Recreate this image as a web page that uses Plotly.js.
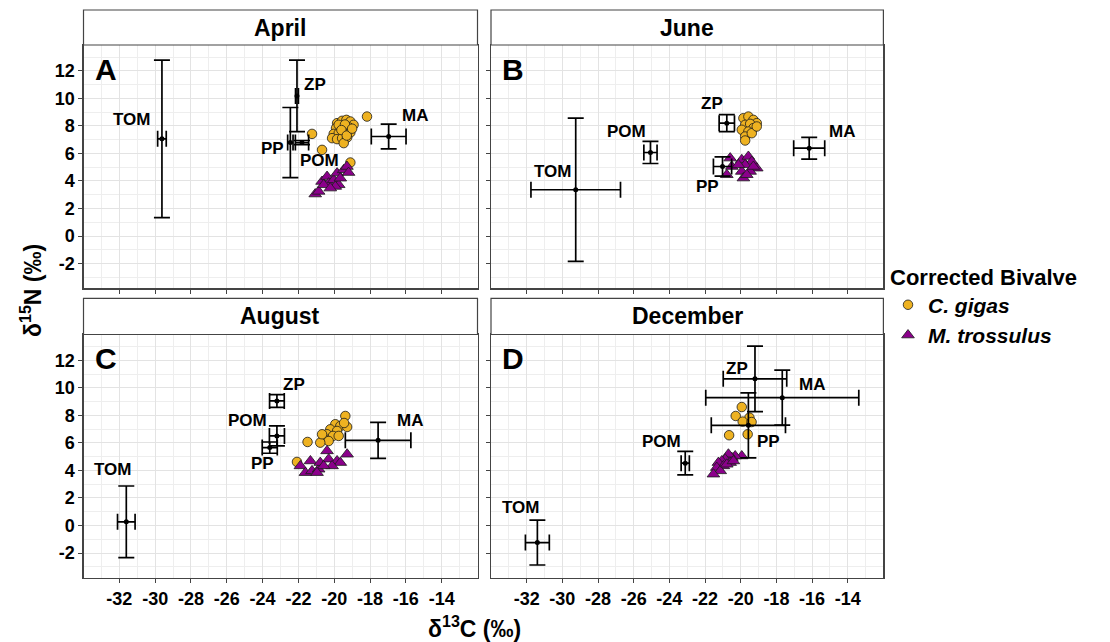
<!DOCTYPE html>
<html>
<head>
<meta charset="utf-8">
<script src="https://cdn.plot.ly/plotly-3.0.1.min.js"></script>
<style>html,body{margin:0;padding:0;background:#fff;}#chart{width:1110px;height:642px;}</style>
</head>
<body>
<div id="chart"></div>
<script>
// ---------- DATA ----------
const months = ['April', 'June', 'August', 'December'];
const panelLetters = ['A', 'B', 'C', 'D'];
const sourceNames = ['TOM', 'POM', 'PP', 'ZP', 'MA'];
const xTicks = [-32, -30, -28, -26, -24, -22, -20, -18, -16, -14];
const yTicks = [-2, 0, 2, 4, 6, 8, 10, 12];

// April
const aprGigasC = [-19.84, -19.56, -19.32, -19.10, -18.92, -19.90, -19.66, -19.20, -20.03, -19.75, -19.47, -19.10, -20.12, -19.84, -19.56, -19.28, -19.47, -19.75, -19.40, -19.60, -19.30, -19.00, -18.17, -21.24, -20.68, -19.10];
const aprGigasN = [8.20, 8.37, 8.44, 8.32, 8.08, 7.84, 7.91, 7.91, 7.42, 7.47, 7.59, 7.52, 7.11, 7.04, 7.11, 7.16, 6.75, 8.08, 8.10, 7.70, 7.30, 7.80, 8.68, 7.42, 6.26, 5.34];
const aprTrossC = [-21.06, -20.87, -20.68, -20.40, -20.31, -20.03, -19.84, -19.75, -19.66, -19.47, -19.29, -19.20, -19.94, -20.59, -20.22];
const aprTrossN = [3.05, 3.24, 3.96, 4.32, 3.84, 4.08, 4.57, 3.72, 4.20, 4.81, 5.05, 4.61, 3.60, 3.72, 3.48];
const aprSrcC = [-29.62, -21.80, -22.45, -22.08, -16.96];
const aprSrcN = [7.06, 6.79, 6.79, 10.18, 7.23];
const aprSrcCsd = [0.24, 0.37, 0.15, 0.08, 0.97];
const aprSrcNsd = [5.72, 0.15, 2.55, 2.60, 0.90];

// June
const junGigasC = [-19.85, -19.57, -19.29, -19.10, -19.75, -19.47, -19.29, -19.94, -19.57, -19.75, -19.38, -19.75, -19.10];
const junGigasN = [8.56, 8.68, 8.44, 8.20, 8.08, 8.15, 7.84, 7.72, 7.59, 7.23, 7.47, 6.94, 7.96];
const junTrossC = [-20.59, -20.50, -20.78, -19.94, -19.57, -19.38, -19.75, -19.10, -19.94, -19.47, -19.85, -20.13, -19.29, -19.66];
const junTrossN = [5.66, 5.05, 4.45, 5.54, 5.78, 5.41, 5.17, 4.93, 4.69, 4.69, 4.21, 5.17, 5.05, 4.45];
const junSrcC = [-29.25, -25.06, -21.02, -20.78, -16.16];
const junSrcN = [3.36, 6.07, 5.05, 8.20, 6.38];
const junSrcCsd = [2.51, 0.37, 0.51, 0.43, 0.87];
const junSrcNsd = [5.20, 0.80, 0.70, 0.62, 0.79];

// August
const augGigasC = [-19.38, -19.94, -19.66, -19.28, -20.22, -19.84, -20.40, -20.07, -20.59, -20.31, -20.78, -20.68, -21.49, -22.08, -19.75, -19.45];
const augGigasN = [7.96, 7.36, 7.23, 7.16, 6.99, 6.87, 6.63, 6.51, 6.38, 6.14, 6.02, 6.63, 6.07, 4.62, 6.51, 7.45];
const augTrossC = [-21.33, -21.89, -21.61, -21.24, -20.87, -20.78, -20.40, -20.31, -19.84, -19.66, -19.28, -20.12, -20.59, -20.96];
const augTrossN = [4.69, 4.33, 3.84, 3.97, 4.09, 4.57, 5.42, 4.82, 4.69, 4.57, 5.18, 4.33, 4.33, 3.84];
const augSrcC = [-31.61, -23.20, -23.60, -23.20, -17.55];
const augSrcN = [0.27, 6.51, 5.66, 9.05, 6.19];
const augSrcCsd = [0.49, 0.42, 0.42, 0.41, 1.83];
const augSrcNsd = [2.60, 0.73, 0.41, 0.46, 1.31];

// December
const decGigasC = [-19.94, -20.28, -19.51, -19.89, -19.39, -20.65, -19.61];
const decGigasN = [8.61, 7.96, 7.84, 7.55, 7.52, 6.56, 6.63];
const decTrossC = [-19.94, -20.31, -20.50, -20.69, -20.87, -20.59, -21.06, -21.25, -20.97, -21.34, -21.15, -21.53, -20.78, -20.41];
const decTrossN = [5.05, 5.05, 4.93, 5.18, 4.82, 4.57, 4.69, 4.57, 4.33, 4.21, 3.97, 3.73, 4.45, 4.69];
const decSrcC = [-31.40, -23.11, -19.57, -19.20, -17.67];
const decSrcN = [-1.24, 4.53, 7.28, 10.66, 9.29];
const decSrcCsd = [0.67, 0.23, 2.08, 1.78, 4.29];
const decSrcNsd = [1.63, 0.85, 2.36, 2.38, 2.00];

// ---------- LAYOUT HELPERS (label placement, in data units) ----------
const labelPos = [
  [[-31.3, 8.44], [-20.82, 5.49], [-23.47, 6.39], [-21.1, 10.98], [-15.5, 8.73]],
  [[-30.56, 4.69], [-26.4, 7.59], [-21.84, 3.6], [-21.62, 9.65], [-14.3, 7.59]],
  [[-32.36, 4.09], [-24.87, 7.6], [-23.98, 4.5], [-22.27, 10.26], [-15.79, 7.65]],
  [[-32.32, 1.3], [-24.45, 6.14], [-18.45, 6.07], [-20.22, 11.42], [-15.98, 10.26]]
];

const panelData = [
  {gC: aprGigasC, gN: aprGigasN, tC: aprTrossC, tN: aprTrossN, sC: aprSrcC, sN: aprSrcN, sCsd: aprSrcCsd, sNsd: aprSrcNsd},
  {gC: junGigasC, gN: junGigasN, tC: junTrossC, tN: junTrossN, sC: junSrcC, sN: junSrcN, sCsd: junSrcCsd, sNsd: junSrcNsd},
  {gC: augGigasC, gN: augGigasN, tC: augTrossC, tN: augTrossN, sC: augSrcC, sN: augSrcN, sCsd: augSrcCsd, sNsd: augSrcNsd},
  {gC: decGigasC, gN: decGigasN, tC: decTrossC, tN: decTrossN, sC: decSrcC, sN: decSrcN, sCsd: decSrcCsd, sNsd: decSrcNsd}
];

const W = 1110, H = 642;
const FONT = 'Liberation Sans, Arial, Helvetica, sans-serif';
const gold = '#EEB221';
const purple = '#8B008B';
const borderCol = '#444444';

const xDom = [[83.5 / W, 477.5 / W], [491 / W, 883.4 / W]];
const yDom = [[1 - 288.3 / H, 1 - 45 / H], [1 - 577.8 / H, 1 - 334.5 / H]];
const stripY = [[1 - 45 / H, 1 - 10 / H], [1 - 334.5 / H, 1 - 298.3 / H]];

const traces = [];
const layout = {
  width: W, height: H,
  margin: {l: 0, r: 0, t: 0, b: 0},
  paper_bgcolor: '#fff', plot_bgcolor: '#fff',
  font: {family: FONT, color: '#000'},
  showlegend: true,
  legend: {
    x: 888 / W, y: 1 - 256 / H, xanchor: 'left', yanchor: 'top',
    bgcolor: 'rgba(0,0,0,0)',
    title: {text: '<b>Corrected Bivalve</b>', font: {size: 22, family: FONT, color: '#000'}},
    font: {size: 21, family: FONT, color: '#000'},
    itemwidth: 30, tracegroupgap: 0
  },
  shapes: [], annotations: []
};

for (let p = 0; p < 4; p++) {
  const col = p % 2, row = Math.floor(p / 2);
  const sfx = p === 0 ? '' : String(p + 1);
  const xa = 'x' + sfx, ya = 'y' + sfx;
  const d = panelData[p];

  traces.push({
    type: 'scatter', mode: 'markers', x: d.gC, y: d.gN, xaxis: xa, yaxis: ya,
    name: '<b><i>C. gigas</i></b>', legendgroup: 'g', showlegend: p === 0,
    marker: {symbol: 'circle', size: 9.5, color: gold, line: {color: '#1a1a1a', width: 0.8}},
    hoverinfo: 'x+y'
  });
  traces.push({
    type: 'scatter', mode: 'markers', x: d.tC, y: d.tN, xaxis: xa, yaxis: ya,
    name: '<b><i>M. trossulus</i></b>', legendgroup: 't', showlegend: p === 0,
    marker: {symbol: 'triangle-up', size: 11, color: purple, line: {color: '#1a1a1a', width: 0.8}},
    hoverinfo: 'x+y'
  });
  traces.push({
    type: 'scatter', mode: 'markers', x: d.sC, y: d.sN, xaxis: xa, yaxis: ya,
    text: sourceNames, showlegend: false,
    marker: {size: 5, color: '#000'},
    error_x: {type: 'data', array: d.sCsd, visible: true, color: '#000', thickness: 1.7, width: 8},
    error_y: {type: 'data', array: d.sNsd, visible: true, color: '#000', thickness: 1.7, width: 8}
  });

  const axCommon = {
    showline: true, mirror: true, linecolor: borderCol, linewidth: 1.2,
    ticks: 'outside', ticklen: 4, tickcolor: borderCol, tickwidth: 1,
    zeroline: false, showgrid: true, gridcolor: '#E3E3E3', gridwidth: 1,
    tickfont: {family: FONT, size: 18, color: '#000', weight: 'bold'},
    minor: {tick0: 0, dtick: 1, showgrid: true, gridcolor: '#EEEEEE', gridwidth: 1}
  };
  layout['xaxis' + sfx] = Object.assign({}, axCommon, {
    domain: xDom[col], anchor: ya, range: [-34, -12],
    tickmode: 'array', tickvals: xTicks, ticktext: xTicks.map(String),
    showticklabels: row === 1
  });
  layout['yaxis' + sfx] = Object.assign({}, axCommon, {
    domain: yDom[row], anchor: xa, range: [-3.8, 13.88],
    tickmode: 'array', tickvals: yTicks, ticktext: yTicks.map(String),
    showticklabels: col === 0
  });

  // strip
  layout.shapes.push({
    type: 'rect', xref: 'paper', yref: 'paper',
    x0: xDom[col][0], x1: xDom[col][1], y0: stripY[row][0], y1: stripY[row][1],
    fillcolor: '#fff', line: {color: borderCol, width: 1.2}, layer: 'above'
  });
  layout.annotations.push({
    xref: 'paper', yref: 'paper', x: (xDom[col][0] + xDom[col][1]) / 2,
    y: (stripY[row][0] + stripY[row][1]) / 2, xanchor: 'center', yanchor: 'middle',
    text: '<b>' + months[p] + '</b>', showarrow: false,
    font: {family: FONT, size: 23, color: '#000'}
  });
  // panel letter
  layout.annotations.push({
    xref: xa + ' domain', yref: ya + ' domain', x: 0.056, y: 0.9,
    xanchor: 'center', yanchor: 'middle', text: '<b>' + panelLetters[p] + '</b>',
    showarrow: false, font: {family: FONT, size: 30, color: '#000'}
  });
  // source labels
  for (let i = 0; i < sourceNames.length; i++) {
    layout.annotations.push({
      xref: xa, yref: ya, x: labelPos[p][i][0], y: labelPos[p][i][1],
      xanchor: 'center', yanchor: 'middle', text: '<b>' + sourceNames[i] + '</b>',
      showarrow: false, font: {family: FONT, size: 17, color: '#000'}
    });
  }
}

// axis titles
layout.annotations.push({
  xref: 'paper', yref: 'paper', x: 31 / W, y: 1 - 291 / H, xanchor: 'center', yanchor: 'middle',
  textangle: -90, showarrow: false, text: '<b>δ<sup>15</sup>N (‰)</b>',
  font: {family: FONT, size: 23, color: '#000'}
});
layout.annotations.push({
  xref: 'paper', yref: 'paper', x: 474 / W, y: 1 - 627 / H, xanchor: 'center', yanchor: 'middle',
  showarrow: false, text: '<b>δ<sup>13</sup>C (‰)</b>',
  font: {family: FONT, size: 23, color: '#000'}
});

Plotly.newPlot('chart', traces, layout, {displayModeBar: false, staticPlot: true});
</script>
</body>
</html>
